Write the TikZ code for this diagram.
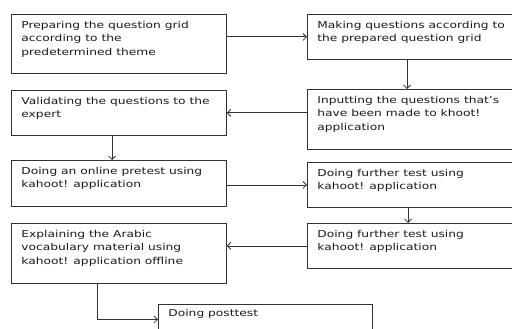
\documentclass[tikz,border=0pt]{standalone}
\usepackage{fontspec}
\setmainfont[FakeStretch=1.29]{DejaVu Sans}
\usetikzlibrary{arrows.meta,calc}
\definecolor{ln}{RGB}{50,50,50}
\definecolor{tx}{RGB}{25,25,25}
\newcommand\boxtxt[3]{\parbox[c][#2][t]{#1}{\fontsize{9.5pt}{13.8pt}\selectfont\raggedright #3\par}}
\tikzset{
  stepbox/.style={draw=ln, line width=0.8pt, anchor=north west, inner xsep=10pt, inner ysep=6.5pt, text=tx},
  conn/.style={draw=ln, line width=0.8pt, -{Straight Barb[length=3.5pt,width=7pt]}}
}
\begin{document}
\begin{tikzpicture}[x=1pt,y=-1pt]
\useasboundingbox (0,0) rectangle (512,329);
\clip (0,0) rectangle (512,329);
\node[stepbox] (b1) at (11,14) {\boxtxt{195pt}{46pt}{Preparing the question grid\\according to the\\predetermined theme}};
\node[stepbox] (b2) at (307,14) {\boxtxt{205pt}{32pt}{Making questions according to\\the prepared question grid}};
\node[stepbox] (b3) at (307,89) {\boxtxt{205pt}{47pt}{Inputting the questions that’s\\have been made to khoot!\\application}};
\node[stepbox] (b4) at (11,90) {\boxtxt{195pt}{32pt}{Validating the questions to the\\expert}};
\node[stepbox] (b5) at (11,160) {\boxtxt{195pt}{33pt}{Doing an online pretest using\\kahoot! application}};
\node[stepbox] (b6) at (307,162) {\boxtxt{205pt}{32pt}{Doing further test using\\kahoot! application}};
\node[stepbox] (b7) at (307,223) {\boxtxt{205pt}{32pt}{Doing further test using\\kahoot! application}};
\node[stepbox] (b8) at (11,223) {\boxtxt{195pt}{47pt}{Explaining the Arabic\\vocabulary material using\\kahoot! application offline}};
\node[stepbox,inner ysep=4.5pt] (b9) at (158,304) {\boxtxt{194pt}{21pt}{Doing posttest}};
\coordinate (s2) at ($(b2.south west)+(100,0)$);
\coordinate (s4) at ($(b4.south west)+(101,0)$);
\coordinate (s6) at ($(b6.south west)+(101,0)$);
\coordinate (s8) at ($(b8.south west)+(86,0)$);
\draw[conn] (b1.east |- b2.west) -- (b2.west);
\draw[conn] (s2) -- (s2 |- b3.north);
\draw[conn] (b3.west |- b4.east) -- (b4.east);
\draw[conn] (s4) -- (s4 |- b5.north);
\draw[conn] (b5.east |- b6.west) -- (b6.west);
\draw[conn] (s6) -- (s6 |- b7.north);
\draw[conn] (b7.west) -- (b8.east |- b7.west);
\draw[conn] (s8) |- (b9.west);
\end{tikzpicture}
\end{document}
